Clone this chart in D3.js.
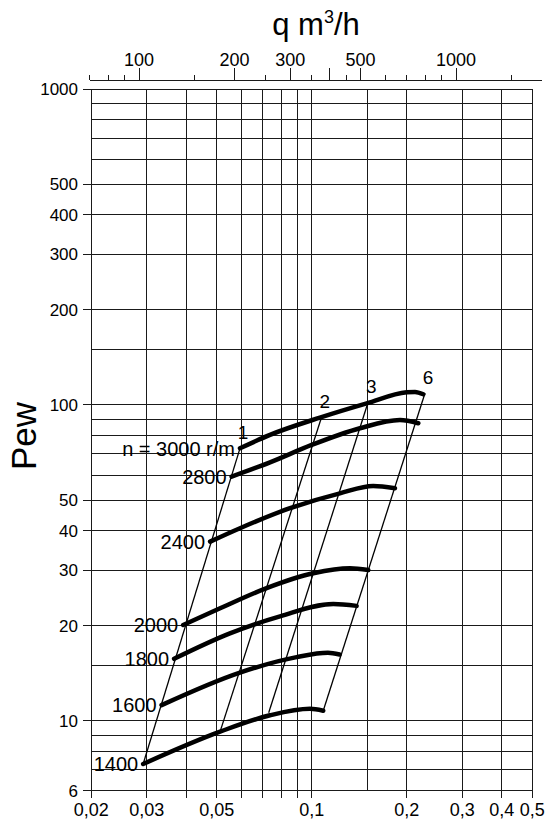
<!DOCTYPE html>
<html>
<head>
<meta charset="utf-8">
<script src="https://cdn.jsdelivr.net/npm/d3@7"></script>
<style>
  body { margin: 0; background: #fff; }
  text { font-family: "Liberation Sans", Arial, sans-serif; fill: #000; }
</style>
</head>
<body>
<div id="chart"></div>
<script>
// bottom axis: flow Q in m3/s
var xTicks = [0.02, 0.03, 0.05, 0.1, 0.2, 0.3, 0.4, 0.5];
var xTickLabels = ["0,02", "0,03", "0,05", "0,1", "0,2", "0,3", "0,4", "0,5"];
var xGrid = [0.02, 0.03, 0.04, 0.05, 0.06, 0.07, 0.08, 0.09, 0.1, 0.15, 0.2, 0.3, 0.4, 0.5];

// left axis: Pew
var yTicks = [6, 10, 20, 30, 40, 50, 100, 200, 300, 400, 500, 1000];
var yGrid = [6, 7, 8, 9, 10, 15, 20, 30, 40, 50, 60, 70, 80, 90, 100, 150, 200, 300, 400, 500, 600, 700, 800, 900, 1000];

// top axis: q in m3/h
var qTicks = [70, 80, 90, 100, 150, 200, 250, 300, 350, 400, 450, 500, 600, 700, 800, 900, 1000, 1500];
var qMajor = [100, 200, 300, 400, 500, 1000];
var qLabels = [100, 200, 300, 500, 1000];

// pump curves [Q, Pew] for each speed
var speedLabels = ["n = 3000 r/m", "2800", "2400", "2000", "1800", "1600", "1400"];
var c3000 = [[0.0592, 72.9], [0.0737, 80.4], [0.1061, 91.2], [0.1493, 101.2], [0.1999, 109.7], [0.2124, 110.0], [0.2256, 108.1]];
var c2800 = [[0.0557, 59.3], [0.0737, 65.8], [0.0999, 74.7], [0.1421, 84.4], [0.1903, 89.6], [0.2176, 87.5]];
var c2400 = [[0.0476, 36.9], [0.0592, 40.7], [0.0853, 47.1], [0.1228, 52.5], [0.1566, 55.4], [0.1835, 54.5]];
var c2000 = [[0.0391, 20.1], [0.0512, 22.7], [0.0719, 26.3], [0.1011, 29.3], [0.1321, 30.4], [0.151, 30.0]];
var c1800 = [[0.0366, 15.7], [0.055, 18.9], [0.0793, 21.4], [0.117, 23.4], [0.1387, 23.1]];
var c1600 = [[0.0334, 11.2], [0.0592, 14.2], [0.0895, 15.9], [0.1125, 16.4], [0.1225, 16.2]];
var c1400 = [[0.0292, 7.29], [0.0512, 9.23], [0.0737, 10.4], [0.0987, 10.9], [0.1087, 10.75]];
var curves = [c3000, c2800, c2400, c2000, c1800, c1600, c1400];

// thin lines 1, 2, 3, 6 (bottom point, top point)
var lineLabels = ["1", "2", "3", "6"];
var line1 = [[0.0292, 7.29], [0.0592, 72.9]];
var line2 = [[0.0512, 9.23], [0.1075, 91.8]];
var line3 = [[0.073, 10.6], [0.151, 102.4]];
var line6 = [[0.1087, 10.75], [0.2284, 108.9]];
var sysLines = [line1, line2, line3, line6];

var width = 547, height = 825;

var svg = d3.select("#chart").append("svg")
  .attr("width", width)
  .attr("height", height);

var x = d3.scaleLog().domain([0.02, 0.5]).range([91.3, 532.3]);
var y = d3.scaleLog().domain([6, 1000]).range([790.7, 89.3]);
var xq = d3.scaleLog().domain([100, 1000]).range([139, 456]);

var grid = svg.append("g").attr("stroke", "#1a1a1a").attr("stroke-width", 1).attr("shape-rendering", "crispEdges");

// vertical grid lines (labelled ones go a bit below the axis)
grid.selectAll(".vg").data(xGrid).enter().append("line")
  .attr("x1", function(d) { return x(d); })
  .attr("x2", function(d) { return x(d); })
  .attr("y1", y(1000))
  .attr("y2", function(d) { return d === 0.15 ? y(6) : y(6) + 7; });

// horizontal grid lines
grid.selectAll(".hg").data(yGrid).enter().append("line")
  .attr("x1", function(d) { return yTicks.indexOf(d) >= 0 ? x(0.02) - 8 : x(0.02); })
  .attr("x2", x(0.5))
  .attr("y1", function(d) { return y(d); })
  .attr("y2", function(d) { return y(d); });

// left labels
svg.selectAll(".yl").data(yTicks).enter().append("text")
  .attr("x", 78)
  .attr("y", function(d) { return y(d); })
  .attr("dy", "0.35em")
  .attr("text-anchor", "end")
  .attr("font-size", 17)
  .text(function(d) { return d; });

// bottom labels
svg.selectAll(".xl").data(xTicks).enter().append("text")
  .attr("x", function(d) { return x(d); })
  .attr("y", 816)
  .attr("text-anchor", "middle")
  .attr("font-size", 18)
  .text(function(d, i) { return xTickLabels[i]; });

// top axis in m3/h
var topY = 80;
svg.append("line")
  .attr("x1", 90).attr("x2", 542)
  .attr("y1", topY).attr("y2", topY)
  .attr("stroke", "#1a1a1a").attr("shape-rendering", "crispEdges");

svg.selectAll(".qt").data(qTicks).enter().append("line")
  .attr("x1", function(d) { return xq(d); })
  .attr("x2", function(d) { return xq(d); })
  .attr("y1", topY)
  .attr("y2", function(d) { return qMajor.indexOf(d) >= 0 ? topY - 12 : topY - 5; })
  .attr("stroke", "#1a1a1a").attr("shape-rendering", "crispEdges");

svg.selectAll(".ql").data(qLabels).enter().append("text")
  .attr("x", function(d) { return xq(d); })
  .attr("y", 66)
  .attr("text-anchor", "middle")
  .attr("font-size", 18)
  .text(function(d) { return d; });

// axis titles
var title = svg.append("text")
  .attr("x", 316)
  .attr("y", 35)
  .attr("text-anchor", "middle")
  .attr("font-size", 31);
title.append("tspan").text("q m");
title.append("tspan").attr("font-size", 18).attr("dy", -12).text("3");
title.append("tspan").attr("dy", 12).text("/h");

svg.append("text")
  .attr("transform", "translate(36,436) rotate(-90)")
  .attr("text-anchor", "middle")
  .attr("font-size", 35)
  .text("Pew");

// thin lines
var line = d3.line()
  .x(function(d) { return x(d[0]); })
  .y(function(d) { return y(d[1]); });

svg.selectAll(".sys").data(sysLines).enter().append("path")
  .attr("d", line)
  .attr("fill", "none")
  .attr("stroke", "#000")
  .attr("stroke-width", 1.3);

svg.selectAll(".sysl").data(sysLines).enter().append("text")
  .attr("x", function(d) { return x(d[1][0]) + 3; })
  .attr("y", function(d) { return y(d[1][1]) - 9; })
  .attr("text-anchor", "middle")
  .attr("font-size", 19)
  .text(function(d, i) { return lineLabels[i]; });

// pump curves
var curveLine = d3.line()
  .curve(d3.curveMonotoneX)
  .x(function(d) { return x(d[0]); })
  .y(function(d) { return y(d[1]); });

svg.selectAll(".pc").data(curves).enter().append("path")
  .attr("d", curveLine)
  .attr("fill", "none")
  .attr("stroke", "#000")
  .attr("stroke-width", 4.5)
  .attr("stroke-linecap", "round");

svg.selectAll(".pcl").data(curves).enter().append("text")
  .attr("x", function(d) { return x(d[0][0]) - 5; })
  .attr("y", function(d) { return y(d[0][1]); })
  .attr("dy", "0.36em")
  .attr("text-anchor", "end")
  .attr("font-size", 20)
  .text(function(d, i) { return speedLabels[i]; });
</script>
</body>
</html>
